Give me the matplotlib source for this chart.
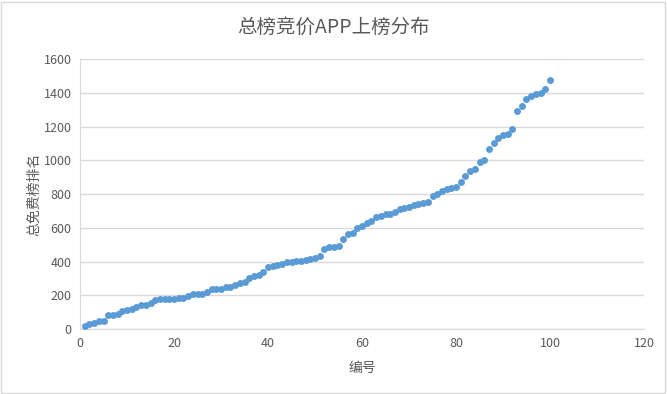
import numpy as np
import matplotlib.pyplot as plt
from matplotlib.patches import Rectangle

plt.rcParams['font.family'] = ['Noto Sans CJK SC', 'DejaVu Sans']

idx = list(range(1, 101))
rank = [20, 30, 35, 45, 50, 80, 80, 90, 105, 115,
        120, 130, 145, 145, 155, 170, 180, 180, 180, 180,
        185, 185, 195, 205, 210, 210, 220, 235, 235, 240,
        250, 250, 260, 275, 280, 305, 315, 320, 340, 365,
        375, 380, 385, 395, 400, 405, 405, 410, 415, 420,
        430, 475, 485, 485, 490, 535, 565, 570, 600, 610,
        630, 640, 665, 670, 680, 680, 695, 710, 720, 725,
        735, 740, 745, 750, 790, 800, 820, 830, 835, 840,
        870, 905, 935, 950, 990, 1000, 1070, 1100, 1130, 1150,
        1155, 1185, 1295, 1320, 1365, 1380, 1395, 1400, 1420, 1475]

fig = plt.figure(figsize=(6.67, 3.94), dpi=100)
fig.patches.append(Rectangle((0.002, 0.003), 0.995, 0.993, transform=fig.transFigure,
                             fill=False, edgecolor='#D9D9D9', linewidth=1))
ax = fig.add_axes([0.12, 0.165, 0.8455, 0.685])

ax.scatter(idx, rank, s=25, color='#5B9BD5', zorder=3, linewidths=0)

ax.set_xlim(0, 120)
ax.set_ylim(0, 1600)
ax.set_xticks(range(0, 121, 20))
ax.set_yticks(range(0, 1601, 200))
ax.grid(axis='y', color='#D9D9D9', linewidth=1)
ax.set_axisbelow(True)
for s in ['top', 'right']:
    ax.spines[s].set_visible(False)
for s in ['left', 'bottom']:
    ax.spines[s].set_color('#D9D9D9')
ax.tick_params(length=0, colors='#595959', labelsize=9, pad=6)

fig.text(0.5, 0.93, '总榜竞价APP上榜分布', fontsize=14, color='#595959',
         ha='center', va='center')
ax.set_xlabel('编号', fontsize=10, color='#595959', labelpad=8)
ax.set_ylabel('总免费榜排名', fontsize=10, color='#595959', labelpad=2)

plt.savefig('out.png', dpi=100)
